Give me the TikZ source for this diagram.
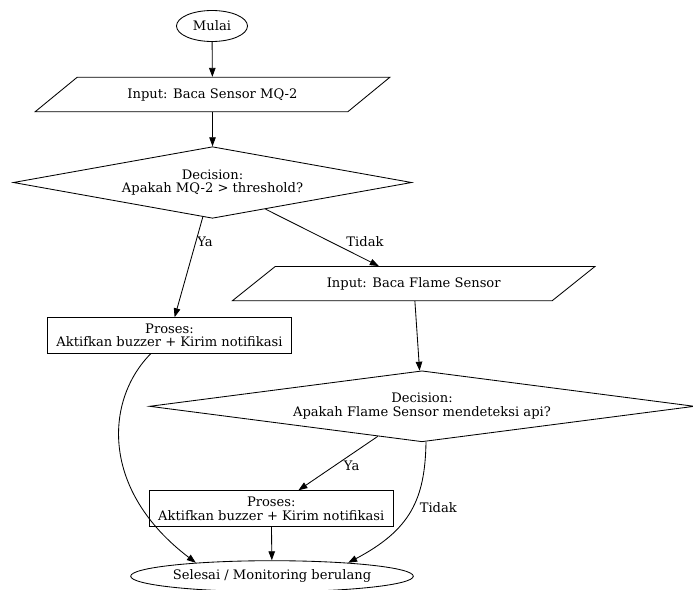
\documentclass[tikz,border=0pt]{standalone}
\usepackage{fontspec}
\setmainfont{DejaVu Serif}
\usetikzlibrary{shapes.geometric,arrows.meta}
\begin{document}
\begin{tikzpicture}[x=1pt,y=-1pt,
  every node/.style={font=\fontsize{13.1}{13.6}\selectfont, inner sep=0pt},
  base/.style={draw, line width=0.85pt},
  term/.style={base, ellipse},
  io/.style={base, trapezium, trapezium left angle=25.3, trapezium right angle=154.7, trapezium stretches=true},
  dec/.style={base, diamond, align=center},
  proc/.style={base, rectangle, align=center},
  arr/.style={line width=0.85pt, -{Triangle[length=9pt,width=6.5pt]}}
]
\useasboundingbox (0,0) rectangle (693,589);

\node[term, minimum width=71, minimum height=31] (start) at (212,26) {Mulai};
\node[io, minimum width=355, minimum height=34.4] (in1) at (212.5,94.5) {Input: Baca Sensor MQ-2};
\node[dec, shape aspect=5.56, minimum width=398.4, minimum height=71.6] (d1) at (212.5,182.5) {Decision:\\Apakah MQ-2 > threshold?};
\node[proc, minimum width=244.4, minimum height=35.6] (p1) at (169.5,335.5) {Proses:\\Aktifkan buzzer + Kirim notifikasi};
\node[io, minimum width=362.5, minimum height=34.2] (in2) at (413.7,283.6) {Input: Baca Flame Sensor};
\node[dec, shape aspect=7.68, minimum width=545, minimum height=71] (d2) at (422,406.3) {Decision:\\Apakah Flame Sensor mendeteksi api?};
\node[proc, minimum width=244, minimum height=36] (p2) at (271.3,508.7) {Proses:\\Aktifkan buzzer + Kirim notifikasi};
\node[term, minimum width=282.6, minimum height=31] (stop) at (272,576.2) {Selesai / Monitoring berulang};

\node (lya1) at (205,242) {Ya};
\node (ltd1) at (365,241.5) {Tidak};
\node (lya2) at (351.7,466) {Ya};
\node (ltd2) at (438.3,507.3) {Tidak};

\draw[arr] (start) -- (in1);
\draw[arr] (in1) -- (d1);
\draw[arr] (d1) -- (p1);
\draw[arr] (d1) -- (in2);
\draw[arr] (in2) -- (d2);
\draw[arr] (d2) -- (p2);
\draw[arr] ([xshift=4pt]d2.south) .. controls (425,500) and (410,530) .. (stop.10);
\draw[arr] ([xshift=-18.8pt]p1.south) .. controls (105,400) and (100,490) .. (stop.170);
\draw[arr] (p2) -- (stop);
\end{tikzpicture}
\end{document}
